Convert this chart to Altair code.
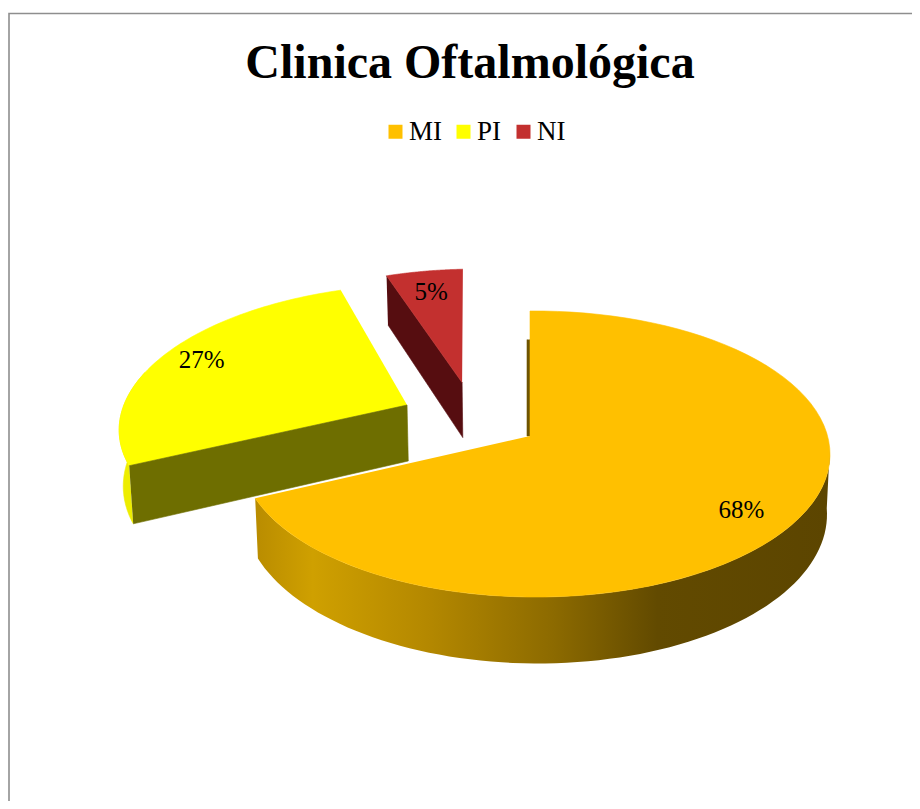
import math
import altair as alt
import pandas as pd

CATEGORIES = ["MI", "PI", "NI"]
VALUES = [68, 27, 5]
COLORS = ["#FFC000", "#FFFF00", "#C3302F"]
TITLE = "Clinica Oftalmológica"
FONT = "Liberation Serif"

# pie camera: apex of the unexploded pie, radii, perspective, wall depth
CX, CY, A, B, K, M, H, SHRINK = 530.0, 436.0, 292.3, 140.75, 0.126, -0.0177, 58.0, 0.99
# ground-plane pull, radius and small turn per slice
PULL = {"MI": (0.0, 0.0, 1.0, 0.0), "PI": (-0.436, 0.228, 1.03, 0.0), "NI": (-0.245, 0.40, 1.0, -1.5)}

starts, t = {}, 0.0
for c, v in zip(CATEGORIES, VALUES):
    starts[c] = (t, t + v * 3.6)
    t += v * 3.6


def project(cat, deg, r=1.0, wall=False):
    u0, v0, s, turn = PULL[cat]
    u = u0 + r * s * math.sin(math.radians(deg + turn))
    v = v0 + r * s * math.cos(math.radians(deg + turn))
    d = 1 + K * v + M * u
    x = CX + A * u / d
    y = CY - B * v / d
    if wall:
        y += H / d
        x = CX + (x - CX) * SHRINK
    return x, y


def rim(cat, a, b, wall=False, n=80):
    return [project(cat, a + (b - a) * i / n, 1.0, wall) for i in range(n + 1)]


def top_face(cat):
    a, b = starts[cat]
    return [project(cat, 0, 0)] + rim(cat, a, b)


def outer_wall(cat, a, b):
    return rim(cat, a, b) + rim(cat, b, a, True)


def radial_wall(cat, deg):
    return [project(cat, deg), project(cat, deg, 0), project(cat, deg, 0, True), project(cat, deg, 1, True)]


gold_gradient = alt.Gradient(
    gradient="linear", x1=0, x2=1, y1=0, y2=0,
    stops=[
        alt.GradientStop(offset=0.0, color="#B98C00"),
        alt.GradientStop(offset=0.1, color="#CFA000"),
        alt.GradientStop(offset=0.3, color="#B48800"),
        alt.GradientStop(offset=0.52, color="#8C6A00"),
        alt.GradientStop(offset=0.7, color="#624A00"),
        alt.GradientStop(offset=1.0, color="#5C4500"),
    ],
)

ya, yb = starts["PI"]
ra, rb = starts["NI"]
ga, gb = starts["MI"]
PARTS = [
    (outer_wall("PI", ya, ya + 40), "#EDED00"),
    (top_face("PI"), COLORS[1]),
    (radial_wall("PI", ya), "#6E6E00"),
    (radial_wall("NI", ra), "#560D10"),
    (top_face("NI"), COLORS[2]),
    ([project("MI", 0, 0.75), project("MI", 0, 0), (project("MI", 0, 0)[0] - 3, project("MI", 0, 0)[1]),
      (project("MI", 0, 0.75)[0] - 3, project("MI", 0, 0.75)[1])], "#6E5400"),
    (outer_wall("MI", 95, gb), gold_gradient),
    (top_face("MI"), COLORS[0]),
]

X = alt.Scale(domain=[8, 912])
Y = alt.Scale(domain=[801, 8])
xenc = alt.X("x:Q", scale=X, axis=None)
yenc = alt.Y("y:Q", scale=Y, axis=None)


def poly(points, fill):
    df = pd.DataFrame(points, columns=["x", "y"]).assign(i=range(len(points)))
    stroke = fill if isinstance(fill, str) else "transparent"
    return alt.Chart(df).mark_line(fill=fill, stroke=stroke, strokeWidth=0.6, clip=True).encode(
        x=xenc, y=yenc, order=alt.Order("i:Q"))


legend_df = pd.DataFrame(
    [{"cat": c, "x": project(c, sum(starts[c]) / 2, 0.5)[0], "y": project(c, sum(starts[c]) / 2, 0.5)[1]}
     for c in CATEGORIES])
legend_layer = alt.Chart(legend_df).mark_square(size=2, opacity=1).encode(
    x=xenc, y=yenc,
    color=alt.Color("cat:N", sort=CATEGORIES,
                    scale=alt.Scale(domain=CATEGORIES, range=COLORS),
                    legend=alt.Legend(
                        title=None, orient="none", legendX=374, legendY=110, direction="horizontal",
                        symbolType="square", symbolSize=196, symbolStrokeWidth=0, symbolOpacity=1,
                        labelFont=FONT, labelFontSize=27, labelColor="#000000", labelOffset=0,
                        columnPadding=8, columns=3, labelLimit=100)),
)

LABEL_POS = {"MI": (0.80, 0, 9), "PI": (0.825, -3, -3), "NI": (0.72, -3, -8)}
label_rows = []
for c, v in zip(CATEGORIES, VALUES):
    r, dx, dy = LABEL_POS[c]
    px, py = project(c, sum(starts[c]) / 2, r)
    label_rows.append({"x": px + dx, "y": py + dy, "text": f"{v}%"})
labels = alt.Chart(pd.DataFrame(label_rows)).mark_text(
    font=FONT, fontSize=25, color="#000000", align="center", baseline="middle"
).encode(x=xenc, y=yenc, text="text:N")

border_df = pd.DataFrame({"x": [912, 9, 9], "y": [13.5, 13.5, 801], "i": [0, 1, 2]})
border = alt.Chart(border_df).mark_line(color="#8E8E8E", strokeWidth=1.6).encode(
    x=xenc, y=yenc, order=alt.Order("i:Q"))

chart = alt.layer(border, legend_layer, *[poly(p, f) for p, f in PARTS], labels).properties(
    width=904, height=793, padding=0, autosize=alt.AutoSizeParams(type="none"),
    title=alt.TitleParams(TITLE, font=FONT, fontSize=48, fontWeight="bold", color="#000000",
                          anchor="middle", dx=10, dy=84),
).configure_view(stroke=None)

chart.save("out.html", embed_options={"renderer": "svg", "actions": False})
